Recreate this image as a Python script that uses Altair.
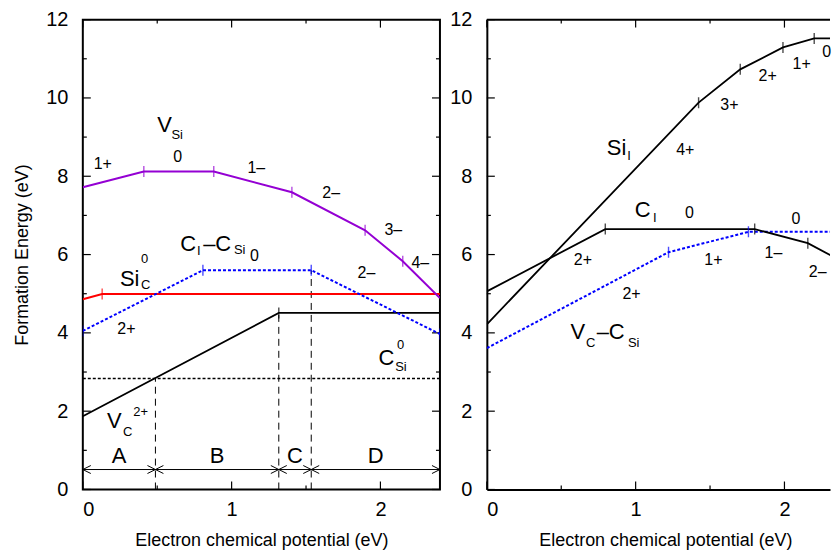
import altair as alt
import pandas as pd

FONT = "Liberation Sans"

# ---------------- left panel data ----------------
vsi_x = [0.0, 0.41, 0.88, 1.405, 1.897, 2.15, 2.40]
vsi_y = [7.72, 8.12, 8.12, 7.59, 6.62, 5.83, 4.89]
sic_x = [0.0, 0.13, 2.40]
sic_y = [4.86, 4.99, 4.99]
cicsi_x = [0.0, 0.807, 1.535, 2.40]
cicsi_y = [4.05, 5.60, 5.60, 3.97]
vc_x = [0.0, 1.317, 2.40]
vc_y = [1.87, 4.51, 4.51]
csi_x = [0.0, 2.40]
csi_y = [2.835, 2.835]

region_bounds = [0.0, 0.488, 1.317, 1.535, 2.40]
region_names = ["A", "B", "C", "D"]
boundary_tops = [2.835, 4.51, 5.60]
arrow_level = 0.51
region_label_level = 0.86

# ---------------- right panel data ----------------
sii_x = [0.0, 1.423, 1.703, 1.99, 2.20, 2.40]
sii_y = [4.22, 9.88, 10.73, 11.29, 11.52, 11.52]
ci_x = [0.0, 0.796, 1.80, 2.157, 2.40]
ci_y = [5.06, 6.65, 6.65, 6.29, 5.80]
vccsi_x = [0.0, 1.221, 1.758, 2.40]
vccsi_y = [3.61, 6.06, 6.58, 6.58]

# ---------------- labels (text, x, y) ----------------
left_names = [("V", 0.550, 9.31), ("C", 0.708, 6.27), ("\u2013C", 0.903, 6.27),
              ("Si", 0.315, 5.37), ("C", 2.040, 3.36), ("V", 0.211, 1.75)]
left_subs = [("Si", 0.634, 9.06), ("I", 0.779, 6.09), ("Si", 1.054, 6.11),
             ("C", 0.423, 5.23), ("0", 0.416, 5.89), ("Si", 2.138, 3.12),
             ("0", 2.136, 3.70), ("C", 0.302, 1.48), ("2+", 0.389, 1.99)]
left_charges = [("1+", 0.134, 8.31), ("0", 0.638, 8.50), ("1\u2013", 1.166, 8.20),
                ("2\u2013", 1.669, 7.57), ("3\u2013", 2.087, 6.62), ("4\u2013", 2.268, 5.79),
                ("0", 1.154, 5.96), ("2\u2013", 1.906, 5.54), ("2+", 0.293, 4.11)]

right_names = [("Si", 0.872, 8.72), ("C", 1.048, 7.13), ("V", 0.612, 4.01), ("\u2013C", 0.832, 4.01)]
right_subs = [("I", 0.956, 8.52), ("I", 1.129, 6.94), ("C", 0.698, 3.74), ("Si", 0.987, 3.75)]
right_charges = [("4+", 1.334, 8.68), ("3+", 1.630, 9.82), ("2+", 1.887, 10.57),
                 ("1+", 2.116, 10.86), ("0", 2.284, 11.18), ("0", 1.361, 7.07),
                 ("0", 2.077, 6.90), ("2+", 0.646, 5.87), ("1+", 1.523, 5.87),
                 ("1\u2013", 1.926, 6.04), ("2\u2013", 2.223, 5.56), ("2+", 0.972, 4.99)]

x_major = [0, 1, 2]
x_minor = [0.5, 1.5]
y_major = [0, 2, 4, 6, 8, 10, 12]
y_minor = [1, 3, 5, 7, 9, 11]

# ---------------- layout ----------------
XMAX_L = 2.40
W_L, H = 358, 471
W_R = 344
XMAX_R = W_R * XMAX_L / W_L
MAJ, MIN = 8, 4

PURPLE = "#9400d3"
RED = "#ff0000"
BLUE = "#0000ff"


def make_axes(xmax, show_domain, ytitle, title_x=None):
    xa = dict(values=x_major, ticks=False, domain=show_domain, grid=False,
              labelFontSize=20, labelPadding=10, labelFont=FONT, labelColor="black",
              title="Electron chemical potential (eV)", titleFontSize=18, titleFont=FONT,
              titleFontWeight="normal", titleColor="black", titlePadding=12, format="d")
    ya = dict(values=y_major, ticks=False, domain=show_domain, grid=False,
              labelFontSize=20, labelPadding=15, labelFont=FONT, labelColor="black",
              titleFontSize=18, titleFont=FONT, titleFontWeight="normal",
              titleColor="black", titlePadding=14, format="d")
    if show_domain:
        xa.update(domainColor="black", domainWidth=2)
        ya.update(domainColor="black", domainWidth=2)
    if title_x is not None:
        xa["titleX"] = title_x
    ya["title"] = ytitle
    xs = alt.Scale(domain=[0, xmax], nice=False, zero=False)
    ys = alt.Scale(domain=[0, 12], nice=False, zero=False)
    return xs, ys, alt.Axis(**xa), alt.Axis(**ya)


def build_panel(xmax, width, series, curve_ticks, names, subs, charges,
                show_domain, ytitle, title_x=None, extra=None):
    xs, ys, xa, ya = make_axes(xmax, show_domain, ytitle, title_x)
    X = lambda: alt.X("x:Q", scale=xs, axis=xa)
    Y = lambda: alt.Y("y:Q", scale=ys, axis=ya)
    layers = []
    base = pd.DataFrame({"x": [0.0], "y": [0.0]})
    layers.append(alt.Chart(base).mark_point(opacity=0).encode(x=X(), y=Y()))

    def tick_layer(vals, side, length):
        if side in ("bottom", "top"):
            df = pd.DataFrame({"x": vals})
            if side == "bottom":
                yv, y2v = H, H - length
            else:
                yv, y2v = 0, length
            return alt.Chart(df).mark_rule(color="black", strokeWidth=1.2).encode(
                x=X(), y=alt.value(yv), y2=alt.value(y2v))
        df = pd.DataFrame({"y": vals})
        if side == "left":
            xv, x2v = 0, length
        else:
            xv, x2v = width, width - length
        return alt.Chart(df).mark_rule(color="black", strokeWidth=1.2).encode(
            y=Y(), x=alt.value(xv), x2=alt.value(x2v))

    sides = ["bottom", "top", "left"] + ([] if show_domain else ["right"])
    for s in sides:
        if s in ("bottom", "top"):
            layers.append(tick_layer(x_major, s, MAJ))
            layers.append(tick_layer(x_minor, s, MIN))
        else:
            layers.append(tick_layer(y_major, s, MAJ))
            layers.append(tick_layer(y_minor, s, MIN))

    if extra is not None:
        layers.extend(extra(X, Y))

    for xs_, ys_, color, dash, sw in series:
        df = pd.DataFrame({"x": xs_, "y": ys_, "i": list(range(len(xs_)))})
        kw = dict(color=color, strokeWidth=sw, clip=True)
        if dash is not None:
            kw["strokeDash"] = dash
        layers.append(alt.Chart(df).mark_line(**kw).encode(x=X(), y=Y(), order="i:Q"))

    for xs_, ys_, color in curve_ticks:
        df = pd.DataFrame({"x": xs_, "y": ys_})
        layers.append(alt.Chart(df).mark_tick(orient="vertical", size=11, thickness=1.4,
                                              color=color, clip=True).encode(x=X(), y=Y()))

    for items, size in ((names, 22), (subs, 13), (charges, 16)):
        df = pd.DataFrame(items, columns=["t", "x", "y"])
        layers.append(alt.Chart(df).mark_text(fontSize=size, font=FONT, color="black",
                                              align="center", baseline="middle").encode(
            x=X(), y=Y(), text="t:N"))

    if show_domain:
        layers.append(alt.Chart(base).mark_rule(color="black", strokeWidth=2).encode(
            x=alt.value(0), x2=alt.value(width), y=alt.value(0)))
        view = alt.ViewBackground(strokeOpacity=0)
    else:
        view = alt.ViewBackground(stroke="black", strokeWidth=2)

    return alt.layer(*layers).properties(width=width, height=H, view=view)


def left_extra(X, Y):
    out = []
    dash_df = pd.DataFrame({"x": region_bounds[1:-1], "y": [0.0] * 3, "y2": boundary_tops})
    out.append(alt.Chart(dash_df).mark_rule(color="black", strokeWidth=1,
                                            strokeDash=[7, 5]).encode(
        x=X(), y=Y(), y2="y2:Q"))
    arr = pd.DataFrame({"x": region_bounds[:-1], "x2": region_bounds[1:],
                        "y": [arrow_level] * 4})
    out.append(alt.Chart(arr).mark_rule(color="black", strokeWidth=1).encode(
        x=X(), x2="x2:Q", y=Y()))
    heads_l = pd.DataFrame({"x": region_bounds[:-1], "y": [arrow_level] * 4})
    heads_r = pd.DataFrame({"x": region_bounds[1:], "y": [arrow_level] * 4})
    out.append(alt.Chart(heads_l).mark_point(shape="M1,-0.5L0,0L1,0.5", filled=False,
                                             size=256, strokeWidth=1, color="black",
                                             opacity=1).encode(x=X(), y=Y()))
    out.append(alt.Chart(heads_r).mark_point(shape="M-1,-0.5L0,0L-1,0.5", filled=False,
                                             size=256, strokeWidth=1, color="black",
                                             opacity=1).encode(x=X(), y=Y()))
    lab = pd.DataFrame({"t": region_names,
                        "x": [(a + b) / 2 for a, b in zip(region_bounds[:-1], region_bounds[1:])],
                        "y": [region_label_level] * 4})
    out.append(alt.Chart(lab).mark_text(fontSize=22, font=FONT, color="black",
                                        align="center", baseline="middle").encode(
        x=X(), y=Y(), text="t:N"))
    return out


left_series = [
    (csi_x, csi_y, "black", [3, 2], 1.6),
    (vc_x, vc_y, "black", None, 1.8),
    (sic_x, sic_y, RED, None, 2),
    (cicsi_x, cicsi_y, BLUE, [3, 2], 2),
    (vsi_x, vsi_y, PURPLE, None, 2),
]
left_ticks = [
    (vsi_x[1:-1], vsi_y[1:-1], PURPLE),
    (sic_x[1:2], sic_y[1:2], RED),
    (cicsi_x, cicsi_y, BLUE),
    (vc_x[1:2], vc_y[1:2], "black"),
]
right_series = [
    (vccsi_x, vccsi_y, BLUE, [3, 2], 2),
    (ci_x, ci_y, "black", None, 1.8),
    (sii_x, sii_y, "black", None, 1.8),
]
right_ticks = [
    (sii_x[1:-1], sii_y[1:-1], "black"),
    (ci_x[1:-1], ci_y[1:-1], "black"),
    (vccsi_x[1:-1], vccsi_y[1:-1], BLUE),
]

left = build_panel(XMAX_L, W_L, left_series, left_ticks, left_names, left_subs,
                   left_charges, False, "Formation Energy (eV)", extra=left_extra)
right = build_panel(XMAX_R, W_R, right_series, right_ticks, right_names, right_subs,
                    right_charges, True, None, title_x=W_L / 2)

chart = alt.hconcat(left, right, spacing=6).properties(
    padding={"left": 4, "top": 0, "right": 0, "bottom": 0}
).configure(font=FONT)

chart.save("out.html", embed_options={"renderer": "svg", "actions": False})
